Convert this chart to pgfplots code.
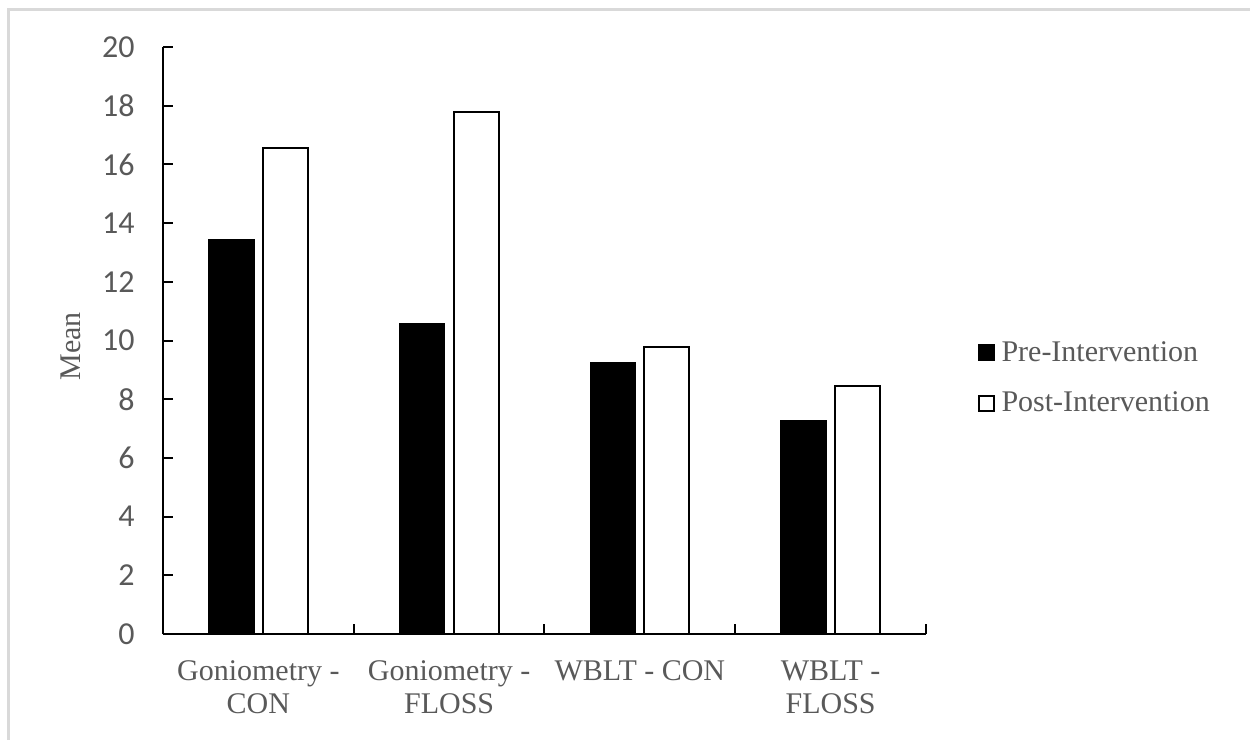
\documentclass[border=0pt]{standalone}
\usepackage{pgfplots}
\pgfplotsset{compat=1.18}
\usepackage{fontspec}
\setmainfont{Liberation Serif}
\newfontfamily\calibri{Carlito}
\definecolor{txtgray}{HTML}{595959}
\definecolor{framegray}{HTML}{D9D9D9}
\begin{document}
\begin{tikzpicture}
\useasboundingbox (0,0) rectangle (625pt,-370pt);
% outer chart frame (only top and left edges visible)
\draw[framegray, line width=1.5pt] (4.25pt,-370pt) -- (4.25pt,-4.75pt) -- (625pt,-4.75pt);
\begin{axis}[
    at={(81.5pt,-317pt)}, anchor=south west,
    scale only axis,
    width=381.5pt, height=293.5pt,
    ybar=4.5pt, bar width=22.5pt,
    xmin=-0.5, xmax=3.5,
    ymin=0, ymax=20,
    ytick={0,2,...,20},
    % separators between categories
    xtick={-0.5,0.5,1.5,2.5,3.5},
    xticklabels={},
    % category names, without tick marks
    extra x ticks={0,1,2,3},
    extra x tick labels={{Goniometry -\\CON},{Goniometry -\\FLOSS},{WBLT - CON},{WBLT -\\FLOSS}},
    extra x tick style={major tick length=0pt},
    axis x line*=bottom, axis y line*=left,
    axis line style={line width=1pt, black, -},
    tick align=inside,
    major tick length=5pt,
    tick style={line width=1pt, black},
    /pgf/number format/assume math mode=true,
    yticklabel style={font=\calibri\fontsize{16}{18}\selectfont, text=txtgray, inner sep=0pt, xshift=-14pt, anchor=east},
    xticklabel style={font=\fontsize{15}{16.5}\selectfont, text=txtgray, align=center, inner sep=0pt, anchor=north, yshift=-13pt},
    ylabel={Mean},
    ylabel style={font=\fontsize{15}{17}\selectfont, text=txtgray, at={(axis description cs:-0.121,0.49)}, anchor=center},
    legend style={at={(1.067,0.436)}, anchor=west, draw=none, fill=none,
        font=\fontsize{15}{16.5}\selectfont, text=txtgray, inner sep=0pt, row sep=14pt,
        nodes={inner sep=0pt}, /tikz/every odd column/.append style={column sep=3.5pt}},
    legend cell align=left,
    legend image code/.code={\draw[#1, line width=1pt] (0pt,-3.75pt) rectangle (7.5pt,3.75pt);},
]
\addplot[fill=black, draw=black, line width=0.8pt] coordinates {(0,13.42) (1,10.56) (2,9.24) (3,7.26)};
\addplot[fill=white, draw=black, line width=1pt] coordinates {(0,16.56) (1,17.79) (2,9.77) (3,8.46)};
\legend{Pre-Intervention, Post-Intervention}
\end{axis}
\end{tikzpicture}
\end{document}
